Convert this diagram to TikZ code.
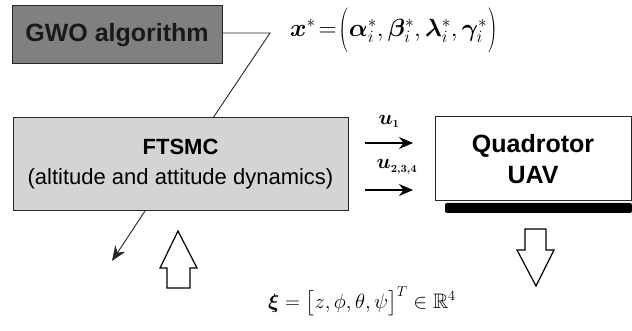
\documentclass[tikz,border=0pt]{standalone}
\usepackage{amsmath,bm}
\usepackage{amssymb}
\usepackage{graphicx}
\usepackage{fontspec}
\setmainfont{Liberation Sans}
\usetikzlibrary{arrows.meta}
\newcommand{\tallopen}{\mathopen{\vcenter{\hbox{\scalebox{1.1}[1.8]{$($}}}}}
\newcommand{\tallclose}{\mathclose{\vcenter{\hbox{\scalebox{1.1}[1.8]{$)$}}}}}
\begin{document}
\begin{tikzpicture}[x=1pt,y=-1pt,
  blk/.style={draw=black!85,line width=1pt,inner sep=0pt,align=center},
  conn/.style={line width=0.9pt,black!85},
  sig/.style={line width=1.2pt,-{Stealth[length=14pt,width=12pt]}},
  hollow/.style={draw=black,line width=1.2pt,fill=white,line join=miter},
  mathlbl/.style={inner sep=0pt}]
\useasboundingbox (0,0) rectangle (632,331);
% blocks
\node[blk,fill=black!50,minimum width=210pt,minimum height=58pt,
  font=\fontsize{25}{30}\selectfont\bfseries,text=black!90] (gwo) at (117,35) {GWO algorithm};
\node[blk,fill=black!17,minimum width=335pt,minimum height=93pt,
  font=\fontsize{22}{30}\selectfont] (ftsmc) at (180.5,164.5) {\textbf{FTSMC}\\(altitude and attitude dynamics)};
\fill[black,rounded corners=2pt] (445,203) rectangle (632,213);
\node[blk,fill=white,minimum width=196pt,minimum height=84pt,
  font=\fontsize{25}{31}\selectfont\bfseries] (quad) at (533,159) {Quadrotor\\UAV};
% GWO to FTSMC link
\coordinate (kink) at (270,33);
\coordinate (ftop) at (213,118);
\draw[conn] (gwo.east |- kink) -- (kink) -- (ftop);
% control signals
\coordinate (a1) at (365,143);
\coordinate (b1) at (413,143);
\coordinate (a2) at (365,190);
\coordinate (b2) at (413,190);
\draw[sig] (a1) -- (b1);
\draw[sig] (a2) -- (b2);
\node[mathlbl] (u1) at (389,121) {\fontsize{22}{22}\selectfont$\bm{u}_{\scriptscriptstyle\bm 1}$};
\node[mathlbl] (u234) at (397,167) {\fontsize{22}{22}\selectfont$\bm{u}_{\scriptscriptstyle\bm{2,3,4}}$};
% parameter vector
\node[mathlbl,anchor=west] (xstar) at (290,30) {\fontsize{23}{23}\selectfont$\bm{x}^{*}\!=\!\tallopen\bm{\alpha}_i^{*},\bm{\beta}_i^{*},\bm{\lambda}_i^{*},\bm{\gamma}_i^{*}\tallclose$};
% state vector
\node[mathlbl,anchor=west] (xi) at (268,301) {\fontsize{21}{21}\selectfont$\bm{\xi}=\bigl[z,\phi,\theta,\psi\bigr]^{T}\in\mathbb{R}^{4}$};
% feedback line
\coordinate (fb0) at (145,211);
\coordinate (fb1) at (112,261);
\draw[conn,-{Stealth[length=15pt,width=12pt]}] (fb0) -- (fb1);
% hollow up arrow
\draw[hollow] (178,231) -- (197,268) -- (190,268) -- (190,288) -- (167,288) -- (167,268) -- (160,268) -- cycle;
% hollow down arrow
\draw[hollow] (525,229) -- (546,229) -- (546,250) -- (554,250) -- (536,286) -- (517,250) -- (525,250) -- cycle;
\end{tikzpicture}
\end{document}
